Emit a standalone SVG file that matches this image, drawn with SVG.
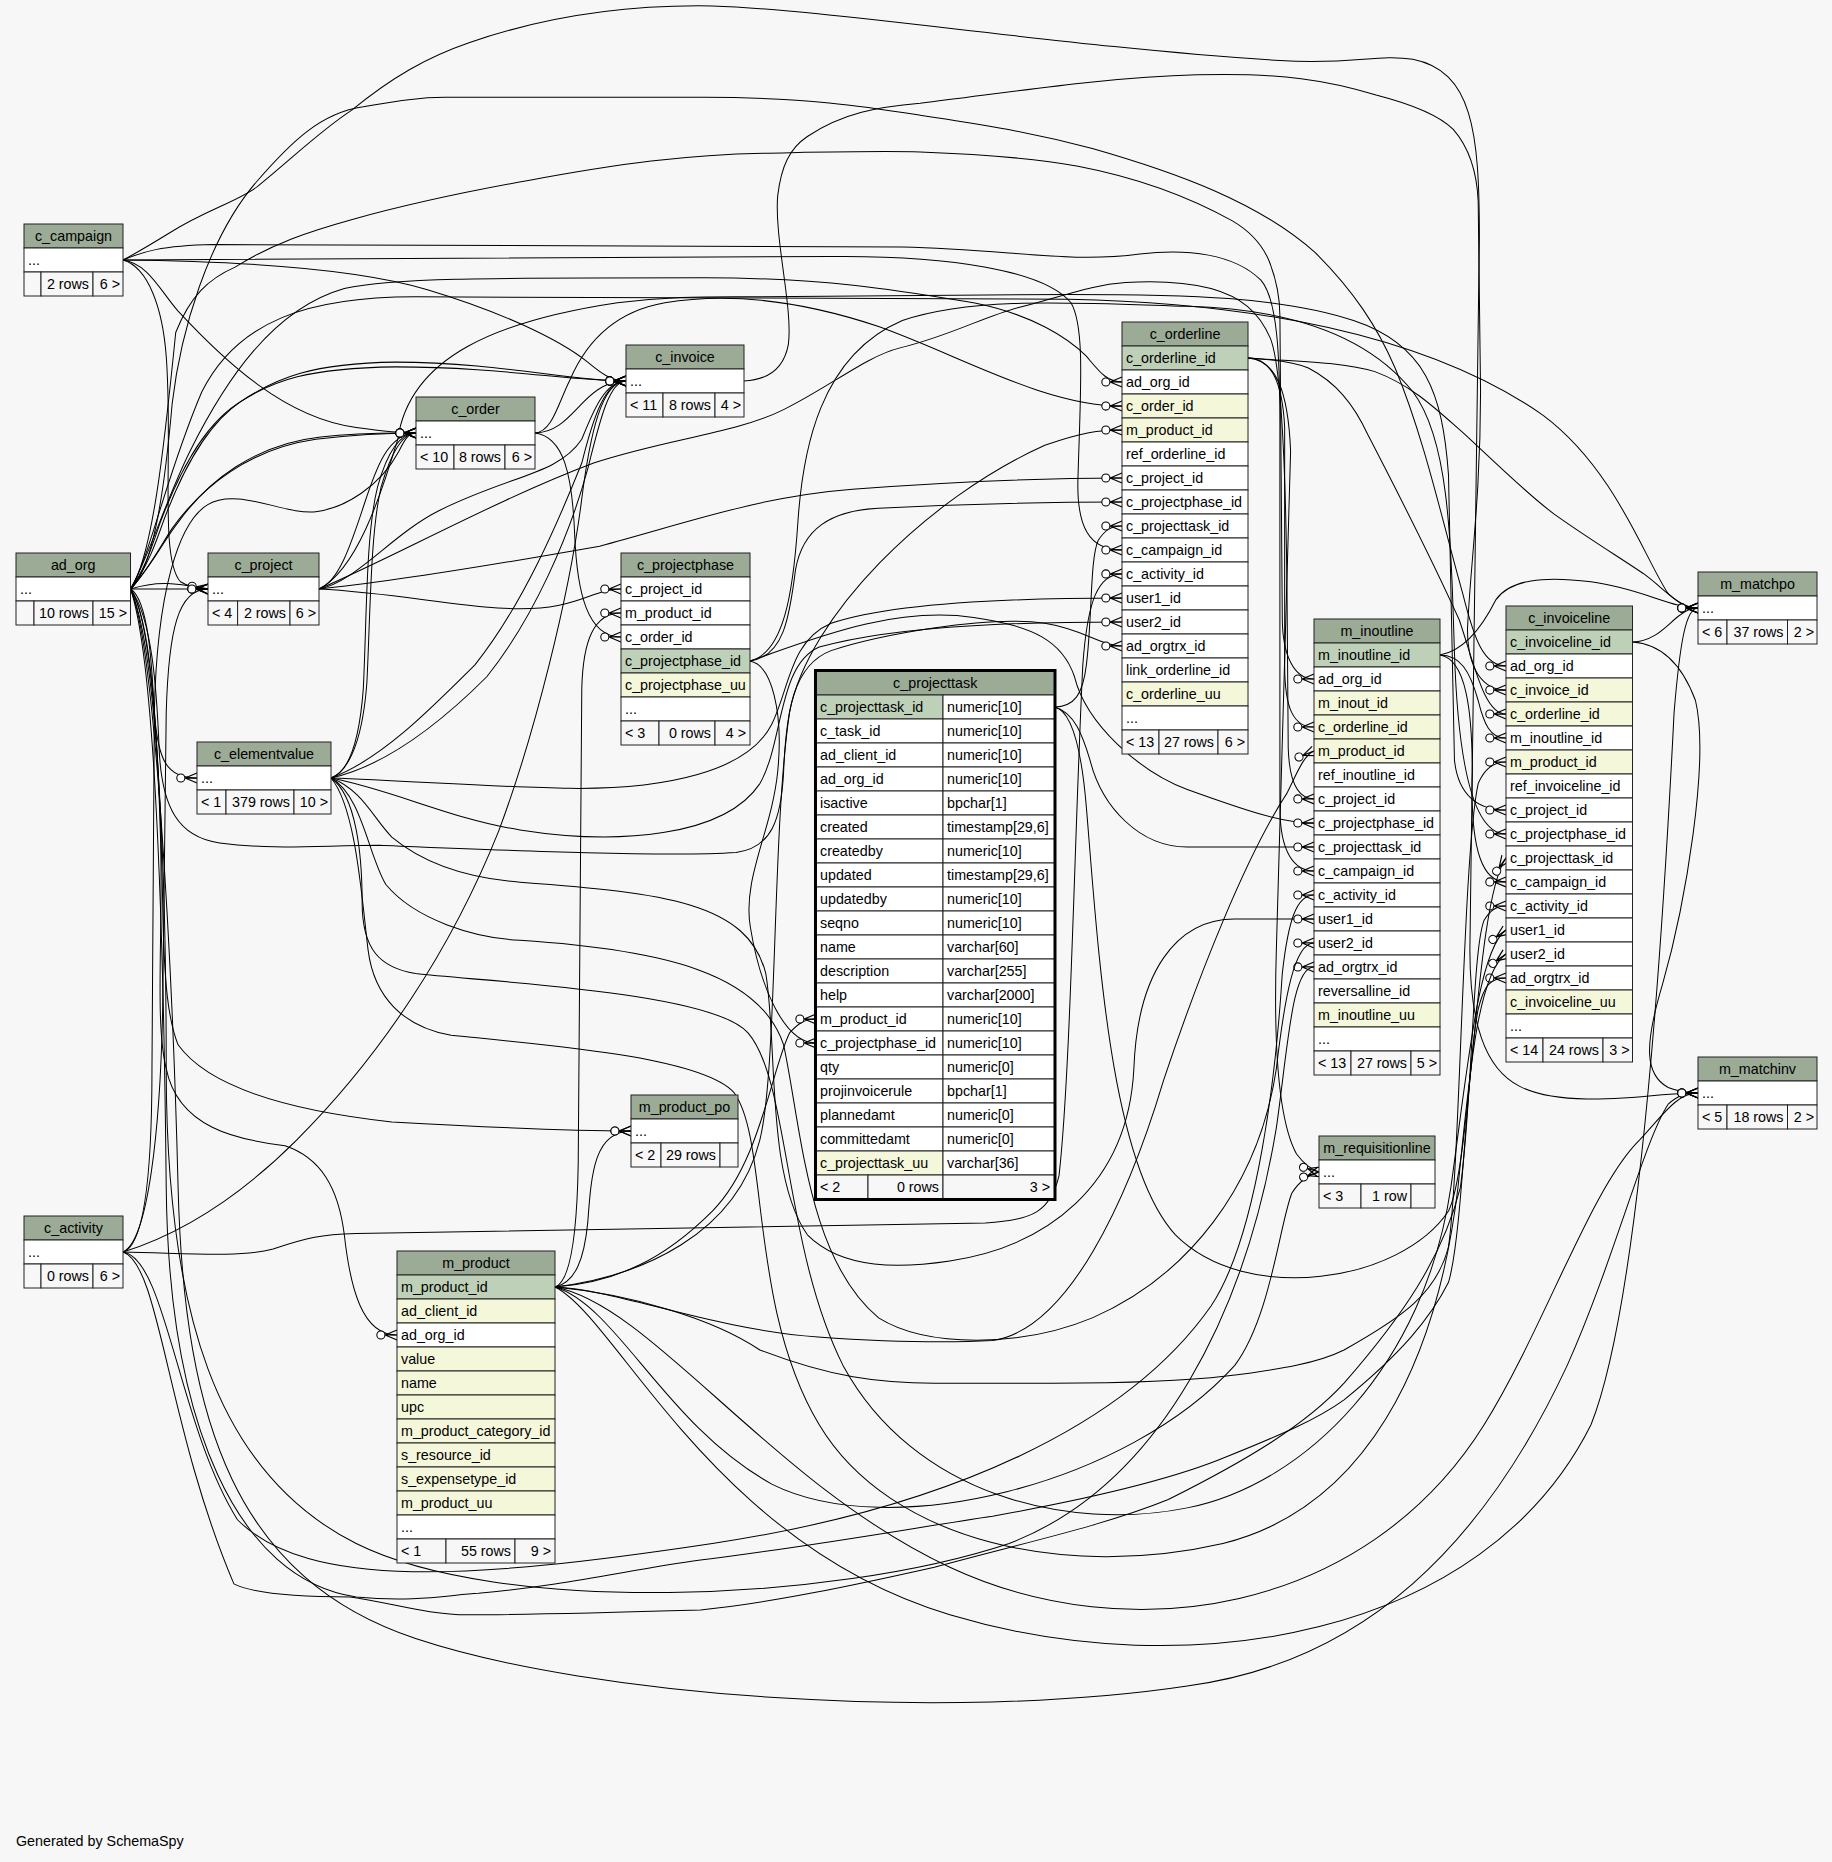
<svg xmlns="http://www.w3.org/2000/svg" width="1832" height="1862" viewBox="0 0 1832 1862">
<style>
.h{fill:#9bab96}.k{fill:#bed1b8}.i{fill:#f4f7da}.w{fill:#ffffff}.f{fill:#f7f7f7}
.n rect{stroke:#222;stroke-width:1}
text{font-family:'Liberation Sans',Arial,Helvetica,sans-serif;font-size:14.3px;fill:#000}
.c{text-anchor:middle}.r{text-anchor:end}
#connectors path{fill:none;stroke:#000;stroke-width:0.85}
</style>
<defs>
<marker id="crow" markerUnits="userSpaceOnUse" markerWidth="24" markerHeight="12" refX="0" refY="0" orient="auto" style="overflow:visible">
<path d="M-10,0 L0,-4.2 M-10,0 L0,4.2 M-10,0 L0,0" fill="none" stroke="#000" stroke-width="1"/>
<circle cx="-13.6" cy="0" r="3.4" fill="#fff" stroke="#000" stroke-width="0.9"/>
</marker>
</defs>
<rect x="0" y="0" width="1832" height="1862" fill="#f7f7f7"/>

<g id="connectors" transform="scale(1.1873)" marker-end="url(#crow)">
<path d="M103.6,219 C125,222 135,245 150,262 C190,305 240,352 300,360 C322,363 336,364.7 350.4,364.7"/>
<path d="M103.6,219 C200,220 300,226 360,244 C420,262 470,285 495,305 C507,315 515,320.9 527.2,320.9"/>
<path d="M103.6,219 C125,225 137,260 140,300 C146,380 134,470 152,490 C160,495 168,496.1 175.2,496.1"/>
<path d="M103.6,219 L700,216 C800,215 880,228 902,255 C914,275 910,330 908,400 C906,445 918,463.2 945,463.2"/>
<path d="M103.6,219 C120,212 135,207 180,206 L760,208 C850,210 900,222 960,214 C1000,209 1040,214 1062,236 C1076,252 1078,300 1078,360 L1078,680 C1078,718 1090,733.6 1106.7,733.6"/>
<path d="M103.6,219 C115,213 130,204 143,196 C175,176 200,170 217,157 C250,130 270,110 296,93 C330,65 360,48 395,36 C470,10 540,4 600,5 C700,8 900,40 1078,51 C1140,55 1160,45 1190,50 C1240,60 1246,110 1246,200 L1240,650 C1238,720 1250,742.8 1268.4,742.8"/>

<path d="M109.9,496.1 C128,480 138,420 145,340 C152,280 175,200 217,152 C245,120 270,95 306,90 C330,86 350,82 375,82 L593,82 C680,82 730,90 775,97 C830,105 870,112 920,125 C990,145 1060,170 1108,213 C1140,245 1160,275 1175,310 C1200,370 1215,440 1232,500 C1242,540 1250,560.9 1268.4,560.9"/>
<path d="M109.9,496.1 C125,470 140,420 160,380 C190,320 230,260 290,243 C330,234 400,234 593,234 C700,234 760,245 820,255 C870,265 900,285 915,300 C926,313 932,321.7 945,321.7"/>
<path d="M109.9,496.1 C128,470 138,380 148,280 C160,250 175,235 198,225 C230,205 260,195 296,185 C350,170 400,160 445,152 C520,138 580,130 643,129 C700,128 740,127 775,128 C830,130 870,133 908,140 C960,150 1000,165 1038,186 C1055,196 1064,208 1069,220 C1076,238 1078,252 1078,266 L1080,520 C1080,552 1090,571.9 1106.7,571.9"/>
<path d="M109.9,496.1 C125,480 135,460 145,445 C170,410 210,378 266,370 C300,366 330,364.7 350.4,364.7"/>
<path d="M109.9,496.1 C127,478 138,455 150,440 C175,405 215,374 270,368 C305,364 330,364.7 350.4,364.7"/>
<path d="M109.9,496.1 C122,480 128,460 135,440 C150,400 170,360 200,340 C230,320 260,310 333,309 C420,309 480,320.9 527.2,320.9"/>
<path d="M109.9,496.1 C124,478 131,458 138,438 C153,398 173,358 203,338 C233,318 263,306 333,305 C420,305 480,320.9 527.2,320.9"/>
<path d="M109.9,496.1 C140,496 155,496.1 175.2,496.1"/>
<path d="M109.9,496.1 C135,488 152,492 175.2,496.1"/>
<path d="M109.9,496.1 C125,505 128,560 130,600 C133,640 140,655.3 165.9,655.3"/>
<path d="M109.9,496.1 C126,520 132,600 135,700 C138,780 130,860 140,900 C150,950 200,960 240,965 C270,975 285,1000 290,1040 C295,1085 305,1124.4 334.4,1124.4"/>
<path d="M109.9,496.1 C128,520 135,650 137,760 C138,830 142,860 150,880 C175,915 240,935 330,945 C420,950 480,952.6 531.5,952.6"/>
<path d="M109.9,496.1 C128,520 132,580 134,630 C136,680 150,705 185,710 C230,716 270,712 320,712 C420,716 560,722 620,718 C650,714 658,690 660,650 C662,600 668,560 700,548 C740,535 830,518 880,525 C912,530 928,544.1 945,544.1"/>
<path d="M109.9,496.1 C130,540 140,700 140,900 C140,1100 180,1240 300,1300 C420,1360 700,1350 850,1300 C980,1250 1050,1100 1075,950 C1085,880 1088,814.4 1106.7,814.4"/>
<path d="M109.9,496.1 C132,560 138,800 140,1000 C142,1200 200,1330 300,1345 C350,1350 380,1343 403,1342 C480,1335 530,1322 590,1314 C700,1300 780,1285 836,1277 C920,1262 990,1245 1033,1227 C1080,1208 1110,1195 1132,1179 C1180,1140 1205,1110 1220,1080 C1232,1040 1235,900 1245,850 C1250,830 1255,823.7 1268.4,823.7"/>
<path d="M109.9,496.1 C126,470 140,400 170,330 C200,270 260,250 350,250 L900,252 C1050,255 1200,280 1300,350 C1360,395 1385,470 1405,500 C1414,508 1420,512.1 1430.1,512.1"/>
<path d="M109.9,496.1 C130,540 145,800 150,1000 C155,1200 200,1330 350,1380 C500,1430 800,1450 1000,1420 C1150,1400 1250,1300 1320,1150 C1360,1060 1385,960 1405,930 C1414,922 1420,920.6 1430.1,920.6"/>

<path d="M103.6,1054.5 C120,1050 128,1000 128,900 L130,600 C132,500 150,440 175,425 C200,410 240,434 266,431 C290,428 320,410 336,380 C341,370 344,364.7 350.4,364.7"/>
<path d="M103.6,1054.5 C150,1040 200,1010 250,960 C320,890 380,800 420,700 C450,620 480,500 490,420 C497,365 507,320.9 527.2,320.9"/>
<path d="M103.6,1054.5 C125,1045 135,950 137,850 L140,600 C142,530 150,496.1 175.2,496.1"/>
<path d="M103.6,1054.5 C150,1055 200,1060 230,1052 C260,1042 270,1040 300,1039 L830,1030 C870,1028 885,1020 892,990 C902,900 905,700 912,560 C916,505 925,483.4 945,483.4"/>
<path d="M103.6,1054.5 C140,1060 150,1200 200,1280 C260,1340 400,1330 600,1300 C800,1270 950,1200 1020,1100 C1060,1040 1075,900 1080,820 C1085,775 1092,753.8 1106.7,753.8"/>
<path d="M103.6,1054.5 C135,1065 140,1200 197,1334 C215,1343 260,1345 295,1345 C330,1350 360,1360 394,1360 C450,1360 520,1358 590,1356 C650,1350 720,1335 787,1320 C860,1300 930,1285 984,1263 C1050,1230 1100,1200 1132,1165 C1180,1110 1215,1060 1230,1000 C1240,930 1240,800 1250,775 C1255,767 1260,763.1 1268.4,763.1"/>

<path d="M268.7,496.1 C285,490 295,460 305,430 C315,400 325,364.7 350.4,364.7"/>
<path d="M268.7,496.1 C300,490 330,450 370,430 C430,400 470,400 490,370 C500,345 510,320.9 527.2,320.9"/>
<path d="M268.7,496.1 C350,500 420,520 470,510 C495,505 505,496.1 523,496.1"/>
<path d="M268.7,496.1 C330,490 420,475 505,460 C580,440 640,418 718,412 C800,406 880,402.6 945,402.6"/>
<path d="M268.7,496.1 C330,470 420,420 500,390 C560,370 620,365 660,345 C700,325 730,300 758,293 C800,283 830,266 858,259 C900,248 920,240 948,238 C980,236 1000,238 1020,243 C1045,250 1060,262 1070,285 C1080,310 1083,400 1084,500 L1085,630 C1086,662 1095,672.9 1106.7,672.9"/>
<path d="M268.7,496.1 C300,480 320,420 335,370 C345,300 420,270 520,255 C560,250 590,250 620,250 L900,248 C1000,248 1080,250 1140,270 C1200,290 1215,330 1220,400 L1225,640 C1228,670 1245,682.2 1268.4,682.2"/>

<path d="M278.8,655.3 C295,650 303,620 306,580 C309,520 308,450 318,410 C325,385 335,364.7 350.4,364.7"/>
<path d="M278.8,655.3 C297,648 306,615 309,575 C312,515 312,448 321,410 C328,386 338,364.7 350.4,364.7"/>
<path d="M278.8,655.3 C320,640 360,600 400,560 C440,510 470,440 490,390 C500,350 510,320.9 527.2,320.9"/>
<path d="M278.8,655.3 C325,645 370,610 410,570 C450,520 480,450 495,395 C505,355 513,320.9 527.2,320.9"/>
<path d="M278.8,655.3 C350,658 420,663 480,664 C560,665 630,650 650,610 C665,580 665,540 700,525 C760,505 880,503.7 945,503.7"/>
<path d="M278.8,655.3 C330,665 380,690 438,699 C520,712 610,705 640,660 C660,625 655,560 690,545 C760,525 880,523.9 945,523.9"/>
<path d="M278.8,655.3 C305,665 315,690 330,705 C360,730 400,740 438,743 C560,752 630,760 645,820 C655,880 645,990 680,1040 C710,1070 760,1068 800,1062 C880,1050 950,1000 955,900 C958,820 990,774 1040,774 L1106.7,774"/>
<path d="M278.8,655.3 C305,670 310,720 325,745 C350,775 400,790 438,792 C560,800 640,820 660,880 C675,950 680,1060 740,1110 C780,1135 860,1135 920,1110 C1000,1075 1060,1000 1075,900 C1082,840 1090,794.2 1106.7,794.2"/>
<path d="M278.8,655.3 C300,670 305,720 305,760 C305,800 320,815 350,820 C410,827 600,835 630,870 C665,910 660,1050 710,1150 C770,1260 900,1290 1000,1270 C1100,1250 1200,1150 1222,1000 C1236,900 1245,800 1268.4,783.3"/>
<path d="M278.8,655.3 C300,680 305,760 310,800 C315,840 340,865 380,872 C460,880 590,890 618,920 C648,960 630,1100 690,1200 C750,1300 900,1330 1030,1300 C1150,1270 1210,1150 1228,1000 C1238,900 1245,820 1268.4,803.5"/>

<path d="M450.6,364.7 C470,364 480,350 492,338 C502,328 512,320.9 527.2,320.9"/>
<path d="M450.6,364.7 C475,368 482,400 484,450 C486,500 495,536.5 523,536.5"/>
<path d="M450.6,364.7 C465,364 470,340 480,320 C495,285 520,262 560,255 C620,245 680,255 740,275 C810,300 880,342 945,342"/>

<path d="M626.6,320.9 C645,320 660,312 664,290 C668,260 652,200 655,165 C658,140 665,125 680,115 C710,95 740,90 775,87 C850,78 930,65 1008,63 C1080,61 1120,68 1159,80 C1190,88 1212,97 1224,109 C1238,125 1244,145 1245,170 L1247,330 C1247,420 1238,480 1236,530 C1236,565 1250,581.2 1268.4,581.2"/>

<path d="M631.7,556.7 C650,560 660,600 655,650 C650,700 625,740 632,781 C640,830 660,878.5 687.3,878.5"/>
<path d="M631.7,556.7 C660,553 665,520 670,480 C676,445 700,430 740,428 C820,424 890,422.8 945,422.8"/>
<path d="M631.7,556.7 C680,540 750,510 820,520 C870,527 895,540 905,570 C915,610 960,650 1000,665 C1050,683 1080,693.2 1106.7,693.2"/>
<path d="M631.7,556.7 C660,550 668,500 672,440 C676,380 690,300 760,270 C820,250 900,255 1000,258 C1080,260 1150,280 1190,330 C1220,370 1222,450 1225,550 C1228,640 1240,702.4 1268.4,702.4"/>

<path d="M888.2,595.5 C905,595 912,585 915,560 C920,520 918,470 925,455 C931,446 936,443 945,443"/>
<path d="M888.2,595.5 C905,600 912,620 918,640 C928,680 960,713.4 1000,713.4 L1106.7,713.4"/>
<path d="M888.2,595.5 C900,598 910,620 915,680 C925,800 935,980 990,1040 C1050,1100 1180,1080 1220,1020 C1240,980 1242,760 1268.4,722.6"/>

<path d="M467.4,1084 C480,1080 486,1040 487,980 L490,580 C491,540 500,516.3 523,516.3"/>
<path d="M467.4,1084 C520,1080 560,1060 600,1020 C640,980 650,900 665,870 C672,862 678,858.3 687.3,858.3"/>
<path d="M467.4,1084 C540,1075 620,1040 640,960 C655,900 650,700 665,600 C680,520 780,420 880,375 C912,364 925,362.2 945,362.2"/>
<path d="M467.4,1084 C520,1086 600,1120 689,1126 C760,1131 800,1131 836,1129 C900,1120 950,1010 980,910 C1010,820 1050,720 1084,668 C1092,652 1098,636 1106.7,632.5"/>
<path d="M467.4,1084 C530,1090 600,1110 640,1137 C700,1160 740,1165 787,1165 L886,1165 C950,1165 1000,1163 1033,1159 C1080,1153 1110,1148 1132,1137 C1180,1110 1210,1090 1220,1050 C1230,980 1232,720 1245,660 C1250,648 1258,641.8 1268.4,641.8"/>
<path d="M467.4,1084 C485,1080 492,1060 495,1030 C498,990 500,952.6 531.5,952.6"/>
<path d="M467.4,1084 C520,1100 560,1200 650,1250 C750,1300 950,1250 1040,1150 C1070,1110 1078,1030 1088,1005 C1095,994 1102,990 1110.9,987.1"/>
<path d="M467.4,1084 C520,1110 600,1300 800,1360 C1000,1420 1250,1380 1340,1200 C1380,1100 1400,800 1410,600 C1415,540 1420,512.1 1430.1,512.1"/>
<path d="M467.4,1084 C550,1100 650,1250 800,1320 C950,1390 1150,1360 1250,1200 C1300,1120 1340,1000 1381,960 C1400,940 1412,920.6 1430.1,920.6"/>

<path d="M1051.1,301.5 C1070,302 1080,320 1082,360 L1082,560 C1082,598 1090,612.3 1106.7,612.3"/>
<path d="M1051.1,301.5 C1075,303 1090,305 1102,310 C1125,322 1140,340 1152,366 C1180,420 1210,480 1229,522 C1242,560 1250,601.4 1268.4,601.4"/>
<path d="M1051.1,301.5 C1075,303 1085,330 1087,380 L1075,800 C1072,900 1080,950 1092,972 C1098,980 1104,985 1110.9,987.1"/>
<path d="M1051.1,301.5 C1100,305 1130,305 1158,313 C1190,325 1210,345 1234,366 C1260,390 1285,415 1309,433 C1340,455 1365,470 1384,483 C1402,496 1414,512.1 1430.1,512.1"/>

<path d="M1212.8,551.7 C1230,552 1238,565 1245,590 C1250,610 1255,621.6 1268.4,621.6"/>
<path d="M1212.8,551.7 C1235,548 1250,525 1260,505 C1272,488 1300,485 1340,490 C1380,495 1408,512.1 1430.1,512.1"/>
<path d="M1212.8,551.7 C1235,555 1240,600 1240,650 L1238,800 C1238,860 1250,900 1280,915 C1310,930 1360,926 1400,922 C1415,921 1422,920.6 1430.1,920.6"/>

<path d="M1374.9,540.7 C1395,540 1405,525 1415,518 C1420,514 1425,512.1 1430.1,512.1"/>
<path d="M1374.9,540.7 C1395,542 1415,555 1428,590 C1440,640 1420,760 1400,830 C1385,880 1385,905 1405,916 C1415,920 1422,920.6 1430.1,920.6"/>
</g>

<g id="node-c_campaign" class="n">
<rect class="h" x="24" y="224" width="99" height="24"/><text class="c" x="73.5" y="241">c_campaign</text>
<rect class="w" x="24" y="248" width="99" height="24"/><text x="28" y="265">...</text>
<rect class="f" x="24" y="272" width="17" height="24"/><rect class="f" x="41" y="272" width="52" height="24"/><rect class="f" x="93" y="272" width="30" height="24"/>
<text class="r" x="89" y="289">2 rows</text><text class="r" x="120" y="289">6 &gt;</text>
</g>

<g id="node-ad_org" class="n">
<rect class="h" x="16" y="553" width="114.5" height="24"/><text class="c" x="73.2" y="570">ad_org</text>
<rect class="w" x="16" y="577" width="114.5" height="24"/><text x="20" y="594">...</text>
<rect class="f" x="16" y="601" width="18" height="24"/><rect class="f" x="34" y="601" width="59" height="24"/><rect class="f" x="93" y="601" width="37.5" height="24"/>
<text class="r" x="89" y="618">10 rows</text><text class="r" x="127" y="618">15 &gt;</text>
</g>

<g id="node-c_project" class="n">
<rect class="h" x="208" y="553" width="111" height="24"/><text class="c" x="263.5" y="570">c_project</text>
<rect class="w" x="208" y="577" width="111" height="24"/><text x="212" y="594">...</text>
<rect class="f" x="208" y="601" width="29.6" height="24"/><rect class="f" x="237.6" y="601" width="52.4" height="24"/><rect class="f" x="290" y="601" width="29" height="24"/>
<text x="212" y="618">&lt; 4</text><text class="r" x="286" y="618">2 rows</text><text class="r" x="316" y="618">6 &gt;</text>
</g>

<g id="node-c_order" class="n">
<rect class="h" x="416" y="397" width="119" height="24"/><text class="c" x="475.5" y="414">c_order</text>
<rect class="w" x="416" y="421" width="119" height="24"/><text x="420" y="438">...</text>
<rect class="f" x="416" y="445" width="38" height="24"/><rect class="f" x="454" y="445" width="51" height="24"/><rect class="f" x="505" y="445" width="30" height="24"/>
<text x="420" y="462">&lt; 10</text><text class="r" x="501" y="462">8 rows</text><text class="r" x="532" y="462">6 &gt;</text>
</g>

<g id="node-c_invoice" class="n">
<rect class="h" x="626" y="345" width="118" height="24"/><text class="c" x="685" y="362">c_invoice</text>
<rect class="w" x="626" y="369" width="118" height="24"/><text x="630" y="386">...</text>
<rect class="f" x="626" y="393" width="37" height="24"/><rect class="f" x="663" y="393" width="52" height="24"/><rect class="f" x="715" y="393" width="29" height="24"/>
<text x="630" y="410">&lt; 11</text><text class="r" x="711" y="410">8 rows</text><text class="r" x="741" y="410">4 &gt;</text>
</g>

<g id="node-c_elementvalue" class="n">
<rect class="h" x="197" y="742" width="134" height="24"/><text class="c" x="264" y="759">c_elementvalue</text>
<rect class="w" x="197" y="766" width="134" height="24"/><text x="201" y="783">...</text>
<rect class="f" x="197" y="790" width="29" height="24"/><rect class="f" x="226" y="790" width="68" height="24"/><rect class="f" x="294" y="790" width="37" height="24"/>
<text x="201" y="807">&lt; 1</text><text class="r" x="290" y="807">379 rows</text><text class="r" x="328" y="807">10 &gt;</text>
</g>

<g id="node-c_activity" class="n">
<rect class="h" x="24" y="1216" width="99" height="24"/><text class="c" x="73.5" y="1233">c_activity</text>
<rect class="w" x="24" y="1240" width="99" height="24"/><text x="28" y="1257">...</text>
<rect class="f" x="24" y="1264" width="17" height="24"/><rect class="f" x="41" y="1264" width="52" height="24"/><rect class="f" x="93" y="1264" width="30" height="24"/>
<text class="r" x="89" y="1281">0 rows</text><text class="r" x="120" y="1281">6 &gt;</text>
</g>

<g id="node-m_product_po" class="n">
<rect class="h" x="631" y="1095" width="107" height="24"/><text class="c" x="684.5" y="1112">m_product_po</text>
<rect class="w" x="631" y="1119" width="107" height="24"/><text x="635" y="1136">...</text>
<rect class="f" x="631" y="1143" width="30" height="24"/><rect class="f" x="661" y="1143" width="59" height="24"/><rect class="f" x="720" y="1143" width="18" height="24"/>
<text x="635" y="1160">&lt; 2</text><text class="r" x="716" y="1160">29 rows</text>
</g>

<g id="node-m_requisitionline" class="n">
<rect class="h" x="1319" y="1136" width="116" height="24"/><text class="c" x="1377" y="1153">m_requisitionline</text>
<rect class="w" x="1319" y="1160" width="116" height="24"/><text x="1323" y="1177">...</text>
<rect class="f" x="1319" y="1184" width="42" height="24"/><rect class="f" x="1361" y="1184" width="50" height="24"/><rect class="f" x="1411" y="1184" width="24" height="24"/>
<text x="1323" y="1201">&lt; 3</text><text class="r" x="1407" y="1201">1 row</text>
</g>

<g id="node-m_matchpo" class="n">
<rect class="h" x="1698" y="572" width="119" height="24"/><text class="c" x="1757.5" y="589">m_matchpo</text>
<rect class="w" x="1698" y="596" width="119" height="24"/><text x="1702" y="613">...</text>
<rect class="f" x="1698" y="620" width="29" height="24"/><rect class="f" x="1727" y="620" width="60.5" height="24"/><rect class="f" x="1787.5" y="620" width="29.5" height="24"/>
<text x="1702" y="637">&lt; 6</text><text class="r" x="1783.5" y="637">37 rows</text><text class="r" x="1814" y="637">2 &gt;</text>
</g>

<g id="node-m_matchinv" class="n">
<rect class="h" x="1698" y="1057" width="119" height="24"/><text class="c" x="1757.5" y="1074">m_matchinv</text>
<rect class="w" x="1698" y="1081" width="119" height="24"/><text x="1702" y="1098">...</text>
<rect class="f" x="1698" y="1105" width="29" height="24"/><rect class="f" x="1727" y="1105" width="60.5" height="24"/><rect class="f" x="1787.5" y="1105" width="29.5" height="24"/>
<text x="1702" y="1122">&lt; 5</text><text class="r" x="1783.5" y="1122">18 rows</text><text class="r" x="1814" y="1122">2 &gt;</text>
</g>

<g id="node-c_projectphase" class="n">
<rect class="h" x="621" y="553" width="129" height="24"/><text class="c" x="685.5" y="570">c_projectphase</text>
<rect class="w" x="621" y="577" width="129" height="24"/><text x="625" y="594">c_project_id</text>
<rect class="w" x="621" y="601" width="129" height="24"/><text x="625" y="618">m_product_id</text>
<rect class="w" x="621" y="625" width="129" height="24"/><text x="625" y="642">c_order_id</text>
<rect class="k" x="621" y="649" width="129" height="24"/><text x="625" y="666">c_projectphase_id</text>
<rect class="i" x="621" y="673" width="129" height="24"/><text x="625" y="690">c_projectphase_uu</text>
<rect class="w" x="621" y="697" width="129" height="24"/><text x="625" y="714">...</text>
<rect class="f" x="621" y="721" width="38" height="24"/><rect class="f" x="659" y="721" width="56" height="24"/><rect class="f" x="715" y="721" width="35" height="24"/>
<text x="625" y="738">&lt; 3</text><text class="r" x="711" y="738">0 rows</text><text class="r" x="746" y="738">4 &gt;</text>
</g>

<g id="node-c_orderline" class="n">
<rect class="h" x="1122" y="322" width="126" height="24"/><text class="c" x="1185" y="339">c_orderline</text>
<rect class="k" x="1122" y="346" width="126" height="24"/><text x="1126" y="363">c_orderline_id</text>
<rect class="w" x="1122" y="370" width="126" height="24"/><text x="1126" y="387">ad_org_id</text>
<rect class="i" x="1122" y="394" width="126" height="24"/><text x="1126" y="411">c_order_id</text>
<rect class="i" x="1122" y="418" width="126" height="24"/><text x="1126" y="435">m_product_id</text>
<rect class="w" x="1122" y="442" width="126" height="24"/><text x="1126" y="459">ref_orderline_id</text>
<rect class="w" x="1122" y="466" width="126" height="24"/><text x="1126" y="483">c_project_id</text>
<rect class="w" x="1122" y="490" width="126" height="24"/><text x="1126" y="507">c_projectphase_id</text>
<rect class="w" x="1122" y="514" width="126" height="24"/><text x="1126" y="531">c_projecttask_id</text>
<rect class="w" x="1122" y="538" width="126" height="24"/><text x="1126" y="555">c_campaign_id</text>
<rect class="w" x="1122" y="562" width="126" height="24"/><text x="1126" y="579">c_activity_id</text>
<rect class="w" x="1122" y="586" width="126" height="24"/><text x="1126" y="603">user1_id</text>
<rect class="w" x="1122" y="610" width="126" height="24"/><text x="1126" y="627">user2_id</text>
<rect class="w" x="1122" y="634" width="126" height="24"/><text x="1126" y="651">ad_orgtrx_id</text>
<rect class="w" x="1122" y="658" width="126" height="24"/><text x="1126" y="675">link_orderline_id</text>
<rect class="i" x="1122" y="682" width="126" height="24"/><text x="1126" y="699">c_orderline_uu</text>
<rect class="w" x="1122" y="706" width="126" height="24"/><text x="1126" y="723">...</text>
<rect class="f" x="1122" y="730" width="37" height="24"/><rect class="f" x="1159" y="730" width="59" height="24"/><rect class="f" x="1218" y="730" width="30" height="24"/>
<text x="1126" y="747">&lt; 13</text><text class="r" x="1214" y="747">27 rows</text><text class="r" x="1245" y="747">6 &gt;</text>
</g>

<g id="node-m_inoutline" class="n">
<rect class="h" x="1314" y="619" width="126" height="24"/><text class="c" x="1377" y="636">m_inoutline</text>
<rect class="k" x="1314" y="643" width="126" height="24"/><text x="1318" y="660">m_inoutline_id</text>
<rect class="w" x="1314" y="667" width="126" height="24"/><text x="1318" y="684">ad_org_id</text>
<rect class="i" x="1314" y="691" width="126" height="24"/><text x="1318" y="708">m_inout_id</text>
<rect class="i" x="1314" y="715" width="126" height="24"/><text x="1318" y="732">c_orderline_id</text>
<rect class="i" x="1314" y="739" width="126" height="24"/><text x="1318" y="756">m_product_id</text>
<rect class="w" x="1314" y="763" width="126" height="24"/><text x="1318" y="780">ref_inoutline_id</text>
<rect class="w" x="1314" y="787" width="126" height="24"/><text x="1318" y="804">c_project_id</text>
<rect class="w" x="1314" y="811" width="126" height="24"/><text x="1318" y="828">c_projectphase_id</text>
<rect class="w" x="1314" y="835" width="126" height="24"/><text x="1318" y="852">c_projecttask_id</text>
<rect class="w" x="1314" y="859" width="126" height="24"/><text x="1318" y="876">c_campaign_id</text>
<rect class="w" x="1314" y="883" width="126" height="24"/><text x="1318" y="900">c_activity_id</text>
<rect class="w" x="1314" y="907" width="126" height="24"/><text x="1318" y="924">user1_id</text>
<rect class="w" x="1314" y="931" width="126" height="24"/><text x="1318" y="948">user2_id</text>
<rect class="w" x="1314" y="955" width="126" height="24"/><text x="1318" y="972">ad_orgtrx_id</text>
<rect class="w" x="1314" y="979" width="126" height="24"/><text x="1318" y="996">reversalline_id</text>
<rect class="i" x="1314" y="1003" width="126" height="24"/><text x="1318" y="1020">m_inoutline_uu</text>
<rect class="w" x="1314" y="1027" width="126" height="24"/><text x="1318" y="1044">...</text>
<rect class="f" x="1314" y="1051" width="37" height="24"/><rect class="f" x="1351" y="1051" width="60" height="24"/><rect class="f" x="1411" y="1051" width="29" height="24"/>
<text x="1318" y="1068">&lt; 13</text><text class="r" x="1407" y="1068">27 rows</text><text class="r" x="1437" y="1068">5 &gt;</text>
</g>

<g id="node-c_invoiceline" class="n">
<rect class="h" x="1506" y="606" width="126.5" height="24"/><text class="c" x="1569.2" y="623">c_invoiceline</text>
<rect class="k" x="1506" y="630" width="126.5" height="24"/><text x="1510" y="647">c_invoiceline_id</text>
<rect class="w" x="1506" y="654" width="126.5" height="24"/><text x="1510" y="671">ad_org_id</text>
<rect class="i" x="1506" y="678" width="126.5" height="24"/><text x="1510" y="695">c_invoice_id</text>
<rect class="i" x="1506" y="702" width="126.5" height="24"/><text x="1510" y="719">c_orderline_id</text>
<rect class="w" x="1506" y="726" width="126.5" height="24"/><text x="1510" y="743">m_inoutline_id</text>
<rect class="i" x="1506" y="750" width="126.5" height="24"/><text x="1510" y="767">m_product_id</text>
<rect class="w" x="1506" y="774" width="126.5" height="24"/><text x="1510" y="791">ref_invoiceline_id</text>
<rect class="w" x="1506" y="798" width="126.5" height="24"/><text x="1510" y="815">c_project_id</text>
<rect class="w" x="1506" y="822" width="126.5" height="24"/><text x="1510" y="839">c_projectphase_id</text>
<rect class="w" x="1506" y="846" width="126.5" height="24"/><text x="1510" y="863">c_projecttask_id</text>
<rect class="w" x="1506" y="870" width="126.5" height="24"/><text x="1510" y="887">c_campaign_id</text>
<rect class="w" x="1506" y="894" width="126.5" height="24"/><text x="1510" y="911">c_activity_id</text>
<rect class="w" x="1506" y="918" width="126.5" height="24"/><text x="1510" y="935">user1_id</text>
<rect class="w" x="1506" y="942" width="126.5" height="24"/><text x="1510" y="959">user2_id</text>
<rect class="w" x="1506" y="966" width="126.5" height="24"/><text x="1510" y="983">ad_orgtrx_id</text>
<rect class="i" x="1506" y="990" width="126.5" height="24"/><text x="1510" y="1007">c_invoiceline_uu</text>
<rect class="w" x="1506" y="1014" width="126.5" height="24"/><text x="1510" y="1031">...</text>
<rect class="f" x="1506" y="1038" width="37" height="24"/><rect class="f" x="1543" y="1038" width="60" height="24"/><rect class="f" x="1603" y="1038" width="29.5" height="24"/>
<text x="1510" y="1055">&lt; 14</text><text class="r" x="1599" y="1055">24 rows</text><text class="r" x="1629.5" y="1055">3 &gt;</text>
</g>

<g id="node-m_product" class="n">
<rect class="h" x="397" y="1251" width="158" height="24"/><text class="c" x="476" y="1268">m_product</text>
<rect class="k" x="397" y="1275" width="158" height="24"/><text x="401" y="1292">m_product_id</text>
<rect class="i" x="397" y="1299" width="158" height="24"/><text x="401" y="1316">ad_client_id</text>
<rect class="w" x="397" y="1323" width="158" height="24"/><text x="401" y="1340">ad_org_id</text>
<rect class="i" x="397" y="1347" width="158" height="24"/><text x="401" y="1364">value</text>
<rect class="i" x="397" y="1371" width="158" height="24"/><text x="401" y="1388">name</text>
<rect class="i" x="397" y="1395" width="158" height="24"/><text x="401" y="1412">upc</text>
<rect class="i" x="397" y="1419" width="158" height="24"/><text x="401" y="1436">m_product_category_id</text>
<rect class="i" x="397" y="1443" width="158" height="24"/><text x="401" y="1460">s_resource_id</text>
<rect class="i" x="397" y="1467" width="158" height="24"/><text x="401" y="1484">s_expensetype_id</text>
<rect class="i" x="397" y="1491" width="158" height="24"/><text x="401" y="1508">m_product_uu</text>
<rect class="w" x="397" y="1515" width="158" height="24"/><text x="401" y="1532">...</text>
<rect class="f" x="397" y="1539" width="49" height="24"/><rect class="f" x="446" y="1539" width="69" height="24"/><rect class="f" x="515" y="1539" width="40" height="24"/>
<text x="401" y="1556">&lt; 1</text><text class="r" x="511" y="1556">55 rows</text><text class="r" x="551" y="1556">9 &gt;</text>
</g>

<g id="node-c_projecttask" class="n">
<rect class="h" x="816" y="671" width="238.5" height="24"/><text class="c" x="935.2" y="688">c_projecttask</text>
<rect class="k" x="816" y="695" width="127" height="24"/><text x="820" y="712">c_projecttask_id</text><rect class="w" x="943" y="695" width="111.5" height="24"/><text x="947" y="712">numeric[10]</text>
<rect class="w" x="816" y="719" width="127" height="24"/><text x="820" y="736">c_task_id</text><rect class="w" x="943" y="719" width="111.5" height="24"/><text x="947" y="736">numeric[10]</text>
<rect class="w" x="816" y="743" width="127" height="24"/><text x="820" y="760">ad_client_id</text><rect class="w" x="943" y="743" width="111.5" height="24"/><text x="947" y="760">numeric[10]</text>
<rect class="w" x="816" y="767" width="127" height="24"/><text x="820" y="784">ad_org_id</text><rect class="w" x="943" y="767" width="111.5" height="24"/><text x="947" y="784">numeric[10]</text>
<rect class="w" x="816" y="791" width="127" height="24"/><text x="820" y="808">isactive</text><rect class="w" x="943" y="791" width="111.5" height="24"/><text x="947" y="808">bpchar[1]</text>
<rect class="w" x="816" y="815" width="127" height="24"/><text x="820" y="832">created</text><rect class="w" x="943" y="815" width="111.5" height="24"/><text x="947" y="832">timestamp[29,6]</text>
<rect class="w" x="816" y="839" width="127" height="24"/><text x="820" y="856">createdby</text><rect class="w" x="943" y="839" width="111.5" height="24"/><text x="947" y="856">numeric[10]</text>
<rect class="w" x="816" y="863" width="127" height="24"/><text x="820" y="880">updated</text><rect class="w" x="943" y="863" width="111.5" height="24"/><text x="947" y="880">timestamp[29,6]</text>
<rect class="w" x="816" y="887" width="127" height="24"/><text x="820" y="904">updatedby</text><rect class="w" x="943" y="887" width="111.5" height="24"/><text x="947" y="904">numeric[10]</text>
<rect class="w" x="816" y="911" width="127" height="24"/><text x="820" y="928">seqno</text><rect class="w" x="943" y="911" width="111.5" height="24"/><text x="947" y="928">numeric[10]</text>
<rect class="w" x="816" y="935" width="127" height="24"/><text x="820" y="952">name</text><rect class="w" x="943" y="935" width="111.5" height="24"/><text x="947" y="952">varchar[60]</text>
<rect class="w" x="816" y="959" width="127" height="24"/><text x="820" y="976">description</text><rect class="w" x="943" y="959" width="111.5" height="24"/><text x="947" y="976">varchar[255]</text>
<rect class="w" x="816" y="983" width="127" height="24"/><text x="820" y="1000">help</text><rect class="w" x="943" y="983" width="111.5" height="24"/><text x="947" y="1000">varchar[2000]</text>
<rect class="w" x="816" y="1007" width="127" height="24"/><text x="820" y="1024">m_product_id</text><rect class="w" x="943" y="1007" width="111.5" height="24"/><text x="947" y="1024">numeric[10]</text>
<rect class="w" x="816" y="1031" width="127" height="24"/><text x="820" y="1048">c_projectphase_id</text><rect class="w" x="943" y="1031" width="111.5" height="24"/><text x="947" y="1048">numeric[10]</text>
<rect class="w" x="816" y="1055" width="127" height="24"/><text x="820" y="1072">qty</text><rect class="w" x="943" y="1055" width="111.5" height="24"/><text x="947" y="1072">numeric[0]</text>
<rect class="w" x="816" y="1079" width="127" height="24"/><text x="820" y="1096">projinvoicerule</text><rect class="w" x="943" y="1079" width="111.5" height="24"/><text x="947" y="1096">bpchar[1]</text>
<rect class="w" x="816" y="1103" width="127" height="24"/><text x="820" y="1120">plannedamt</text><rect class="w" x="943" y="1103" width="111.5" height="24"/><text x="947" y="1120">numeric[0]</text>
<rect class="w" x="816" y="1127" width="127" height="24"/><text x="820" y="1144">committedamt</text><rect class="w" x="943" y="1127" width="111.5" height="24"/><text x="947" y="1144">numeric[0]</text>
<rect class="i" x="816" y="1151" width="127" height="24"/><text x="820" y="1168">c_projecttask_uu</text><rect class="w" x="943" y="1151" width="111.5" height="24"/><text x="947" y="1168">varchar[36]</text>
<rect class="f" x="816" y="1175" width="52" height="24"/><rect class="f" x="868" y="1175" width="75" height="24"/><rect class="f" x="943" y="1175" width="111.5" height="24"/>
<text x="820" y="1192">&lt; 2</text><text class="r" x="939" y="1192">0 rows</text><text class="r" x="1050" y="1192">3 &gt;</text>
<rect x="815.5" y="670.5" width="239.5" height="529" fill="none" style="stroke:#000;stroke-width:3"/>
</g>

<text x="16" y="1846">Generated by SchemaSpy</text>
</svg>
